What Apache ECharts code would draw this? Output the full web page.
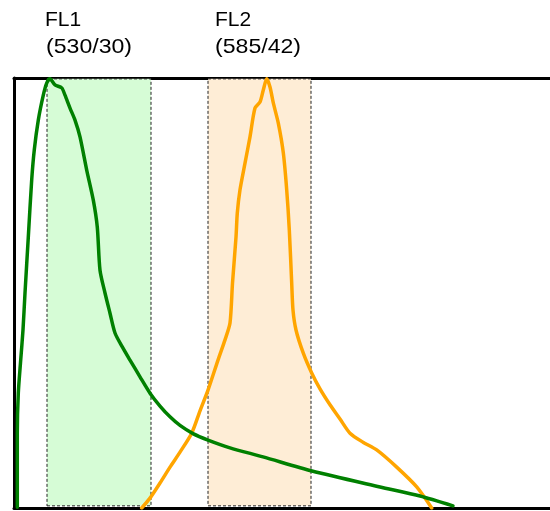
<!DOCTYPE html>
<html>
<head>
<meta charset="utf-8">
<script src="https://cdn.jsdelivr.net/npm/echarts@6/dist/echarts.min.js"></script>
<style>
html,body{margin:0;padding:0;background:#fff;}
#chart{width:550px;height:511px;}
</style>
</head>
<body>
<div id="chart"></div>
<script>
// Channel labels
var channelNames = ['FL1', 'FL2'];
var channelFilters = ['(530/30)', '(585/42)'];

// Filter bands (x range on arbitrary wavelength axis)
var bandFL1 = [33, 137];
var bandFL2 = [194, 297];

// Green emission spectrum [x, relative intensity]
var greenX = [3.3, 3.3, 4.3, 6.7, 9, 11, 14.3, 17.7, 20.3, 24.3, 29.3, 32.7, 36, 41, 47.7, 51, 56, 61, 66, 72.7, 79.3, 83.3, 86, 91, 96, 101, 107.7, 116, 126, 136, 146, 156, 166, 179, 194, 216, 249, 298, 366, 406, 439];
var greenY = [0.2, 17.4, 26.7, 34.4, 41.4, 50.0, 63.0, 76.3, 83.3, 90.2, 96.0, 98.8, 99.8, 98.4, 97.7, 96.0, 93.0, 90.2, 86.3, 78.6, 71.6, 65.3, 55.3, 50.0, 45.3, 40.7, 37.7, 34.4, 30.5, 26.7, 23.7, 21.2, 19.2, 17.3, 15.8, 14.0, 11.9, 8.6, 4.9, 2.8, 0.5];

// Orange emission spectrum [x, relative intensity]
var orangeX = [127.7, 136, 146, 156, 166, 177.7, 186, 194, 204, 211, 216, 218.5, 222, 223.3, 226, 231, 236, 241, 246, 249.3, 252.7, 256, 259.3, 264.3, 269.3, 272.7, 275.3, 277.7, 279, 282, 289.3, 297.7, 306, 316, 326, 336, 349, 362.7, 382.7, 402.7, 417.7];
var orangeY = [0, 2.3, 5.8, 9.5, 13.0, 17.4, 22.6, 27.4, 34.4, 39.1, 43.0, 52.3, 63.0, 68.6, 74.0, 80.2, 86.3, 93.0, 94.4, 97.2, 99.8, 97.9, 94.2, 89.5, 82.6, 74.0, 64.7, 52.3, 46.0, 41.4, 36.0, 31.4, 27.7, 24.0, 20.7, 17.4, 15.3, 13.5, 9.5, 4.9, 0];

function zip(xs, ys) { return xs.map(function (x, i) { return [x, ys[i]]; }); }

var chart = echarts.init(document.getElementById('chart'), null, {renderer: 'canvas'});
var labelFont = '"Liberation Sans", Arial, sans-serif';
var frameLine = {show: true, onZero: false, lineStyle: {color: '#000', width: 3}};
var hidden = {axisTick: {show: false}, axisLabel: {show: false}, splitLine: {show: false}};

chart.setOption({
  animation: false,
  backgroundColor: '#fff',
  grid: {left: 14, top: 78, right: 0, bottom: 3, show: false},
  xAxis: [
    Object.assign({type: 'value', min: 0, max: 536, position: 'bottom', axisLine: frameLine}, hidden),
    Object.assign({type: 'value', min: 0, max: 536, position: 'top', axisLine: frameLine}, hidden)
  ],
  yAxis: Object.assign({type: 'value', min: 0, max: 100, position: 'left', axisLine: frameLine}, hidden),
  graphic: [
    {type: 'text', left: 45, top: 10, style: {text: channelNames[0], font: '21px ' + labelFont, fill: '#000'}},
    {type: 'text', left: 46, top: 37, scaleX: 1.1, style: {text: channelFilters[0], font: '21px ' + labelFont, fill: '#000'}},
    {type: 'text', left: 215, top: 10, style: {text: channelNames[1], font: '21px ' + labelFont, fill: '#000'}},
    {type: 'text', left: 215, top: 37, scaleX: 1.1, style: {text: channelFilters[1], font: '21px ' + labelFont, fill: '#000'}}
  ],
  series: [
    {
      type: 'line', z: 1, data: [[0, null]], symbol: 'none', silent: true,
      markArea: {
        silent: true,
        data: [
          [{xAxis: bandFL1[0], yAxis: 0.5, itemStyle: {color: '#d6fcd6', borderColor: '#222', borderWidth: 1, borderType: [3, 2]}}, {xAxis: bandFL1[1], yAxis: 99.8}],
          [{xAxis: bandFL2[0], yAxis: 0.5, itemStyle: {color: '#feedd6', borderColor: '#222', borderWidth: 1, borderType: [3, 2]}}, {xAxis: bandFL2[1], yAxis: 99.8}]
        ]
      }
    },
    {
      name: 'FL1', type: 'line', z: 3, data: zip(greenX, greenY), symbol: 'none', smooth: 0.25,
      lineStyle: {color: '#008000', width: 3.5, cap: 'round', join: 'round'}
    },
    {
      name: 'FL2', type: 'line', z: 2, data: zip(orangeX, orangeY), symbol: 'none', smooth: 0.25,
      lineStyle: {color: '#ffa500', width: 3.5, cap: 'round', join: 'round'}
    }
  ]
});
</script>
</body>
</html>
